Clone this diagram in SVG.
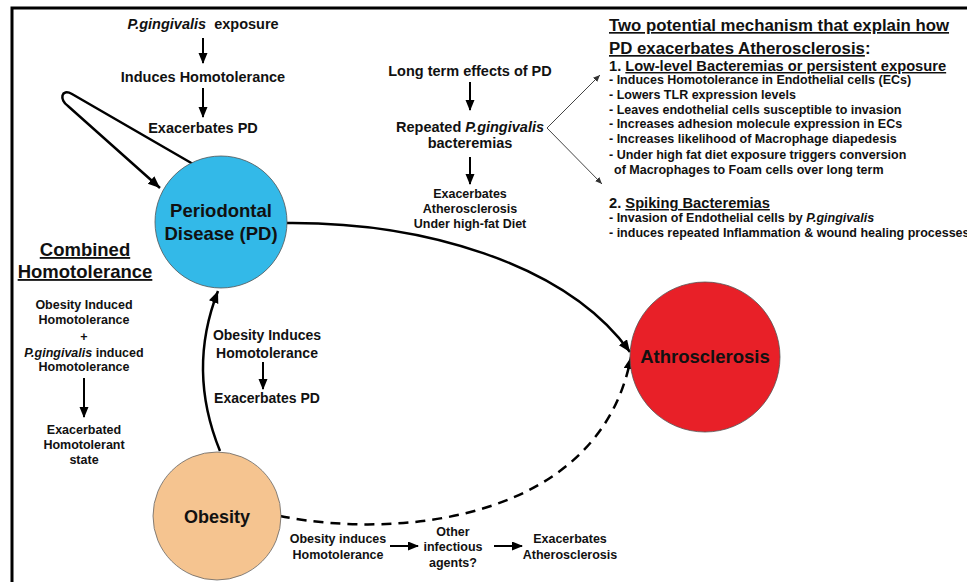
<svg xmlns="http://www.w3.org/2000/svg" width="967" height="582" viewBox="0 0 967 582">
<defs>
<style>
text{font-family:"Liberation Sans",Arial,sans-serif;font-weight:bold;fill:#111;}
.c{text-anchor:middle;}
.f145{font-size:14.5px;}
.f125{font-size:12.5px;}
.f14{font-size:14px;}
.big{font-size:18.5px;}
.it{font-style:italic;}
.u{text-decoration:underline;}
.ln{fill:none;stroke:#000;stroke-width:2.5;}
.sa{fill:none;stroke:#000;stroke-width:2;}
.thin{fill:none;stroke:#444;stroke-width:1;}
</style>
<marker id="ah" markerUnits="userSpaceOnUse" markerWidth="14" markerHeight="12" refX="12" refY="5" orient="auto">
<path d="M0,0 L12,5 L0,10 z" fill="#000"/>
</marker>
<marker id="ahs" markerUnits="userSpaceOnUse" markerWidth="12" markerHeight="10" refX="10" refY="4.5" orient="auto">
<path d="M0,0 L11,4.5 L0,9 z" fill="#000"/>
</marker>
<marker id="aht" markerUnits="userSpaceOnUse" markerWidth="10" markerHeight="8" refX="7" refY="3" orient="auto">
<path d="M0,0 L7,3 L0,6 z" fill="#333"/>
</marker>
</defs>
<rect x="0" y="0" width="967" height="582" fill="#fff"/>
<g id="frame">
<path d="M12,582 L12,8 L967,8" fill="none" stroke="#000" stroke-width="3"/>
</g>

<g id="connectors">
<path class="ln" d="M193,164 L72,94 C61,88 59,100 68,106 L160,188" marker-end="url(#ah)"/>
<path class="ln" d="M287,223 C420,222 565,262 630,352" marker-end="url(#ah)"/>
<path class="ln" d="M220,451 Q187,370 218,291" marker-end="url(#ah)"/>
<path class="ln" d="M280,516 C400,540 600,520 631,357" stroke-dasharray="10,7" marker-end="url(#ah)"/>
<path class="thin" d="M547,128 L600,75" marker-end="url(#aht)"/>
<path class="thin" d="M547,128 L602,184" marker-end="url(#aht)"/>
<line class="sa" x1="203" y1="38" x2="203" y2="63" marker-end="url(#ahs)"/>
<line class="sa" x1="203" y1="88" x2="203" y2="117" marker-end="url(#ahs)"/>
<line class="sa" x1="470" y1="82" x2="470" y2="110" marker-end="url(#ahs)"/>
<line class="sa" x1="470" y1="157" x2="470" y2="184" marker-end="url(#ahs)"/>
<line class="sa" x1="84" y1="378" x2="84" y2="417" marker-end="url(#ahs)"/>
<line class="sa" x1="263" y1="362" x2="263" y2="389" marker-end="url(#ahs)"/>
<line class="sa" x1="390" y1="546" x2="418" y2="546" marker-end="url(#ahs)"/>
<line class="sa" x1="494" y1="546" x2="522" y2="546" marker-end="url(#ahs)"/>
</g>

<g id="pd">
<circle cx="221" cy="222" r="66" fill="#33B9E8" stroke="#555" stroke-width="0.8"/>
<text class="c big" x="221" y="217">Periodontal</text>
<text class="c big" x="221" y="240">Disease (PD)</text>
</g>

<g id="athero">
<circle cx="705" cy="357" r="75" fill="#E82028" stroke="#555" stroke-width="0.8"/>
<text class="c big" x="705" y="363">Athrosclerosis</text>
</g>

<g id="obesity">
<circle cx="217" cy="516" r="64" fill="#F5C490" stroke="#666" stroke-width="0.8"/>
<text class="c" x="217" y="523" style="font-size:18px">Obesity</text>
</g>

<g id="pg-chain">
<text class="c f145" x="203" y="29"><tspan class="it">P.gingivalis</tspan>&#160; exposure</text>
<text class="c f145" x="203" y="82">Induces Homotolerance</text>
<text class="c f145" x="203" y="133">Exacerbates PD</text>
</g>

<g id="long-term">
<text class="c f145" x="470" y="76">Long term effects of PD</text>
<text class="c f145" x="470" y="132">Repeated <tspan class="it">P.gingivalis</tspan></text>
<text class="c f145" x="470" y="148">bacteremias</text>
<text class="c f125" x="470" y="198">Exacerbates</text>
<text class="c f125" x="470" y="213">Atherosclerosis</text>
<text class="c f125" x="470" y="228">Under high-fat Diet</text>
</g>

<g id="mechanisms">
<text x="609" y="31" style="font-size:16.8px"><tspan class="u">Two potential mechanism that explain how</tspan></text>
<text x="609" y="54" style="font-size:16.8px"><tspan class="u">PD exacerbates Atherosclerosis</tspan>:</text>
<text x="609" y="71" style="font-size:14.7px">1. <tspan class="u">Low-level Bacteremias or persistent exposure</tspan></text>
<text class="f125" x="609" y="84">- Induces Homotolerance in Endothelial cells (ECs)</text>
<text class="f125" x="609" y="99">- Lowers TLR expression levels</text>
<text class="f125" x="609" y="114">- Leaves endothelial cells susceptible to invasion</text>
<text class="f125" x="609" y="128">- Increases adhesion molecule expression in ECs</text>
<text class="f125" x="609" y="143">- Increases likelihood of Macrophage diapedesis</text>
<text class="f125" x="609" y="159">- Under high fat diet exposure triggers conversion</text>
<text class="f125" x="614" y="174">of Macrophages to Foam cells over long term</text>
<text x="609" y="208" style="font-size:14.7px">2. <tspan class="u">Spiking Bacteremias</tspan></text>
<text class="f125" x="609" y="222">- Invasion of Endothelial cells by <tspan class="it">P.gingivalis</tspan></text>
<text class="f125" x="609" y="237">- induces repeated Inflammation &amp; wound healing processes</text>
</g>

<g id="combined">
<text class="c u" x="85" y="256" style="font-size:18.5px">Combined</text>
<text class="c u" x="85" y="278" style="font-size:18.5px">Homotolerance</text>
<text class="c f125" x="84" y="309">Obesity Induced</text>
<text class="c f125" x="84" y="324">Homotolerance</text>
<text class="c f125" x="84" y="341">+</text>
<text class="c f125" x="84" y="357"><tspan class="it">P.gingivalis</tspan> induced</text>
<text class="c f125" x="84" y="371">Homotolerance</text>
<text class="c f125" x="84" y="434">Exacerbated</text>
<text class="c f125" x="84" y="449">Homotolerant</text>
<text class="c f125" x="84" y="464">state</text>
</g>

<g id="obesity-pd">
<text class="c f14" x="267" y="340">Obesity Induces</text>
<text class="c f14" x="267" y="358">Homotolerance</text>
<text class="c f14" x="267" y="403">Exacerbates PD</text>
</g>

<g id="obesity-other">
<text class="c f125" x="338" y="543">Obesity induces</text>
<text class="c f125" x="338" y="559">Homotolerance</text>
<text class="c f125" x="453" y="536">Other</text>
<text class="c f125" x="453" y="551">infectious</text>
<text class="c f125" x="453" y="567">agents?</text>
<text class="c f125" x="570" y="543">Exacerbates</text>
<text class="c f125" x="570" y="559">Atherosclerosis</text>
</g>
</svg>
